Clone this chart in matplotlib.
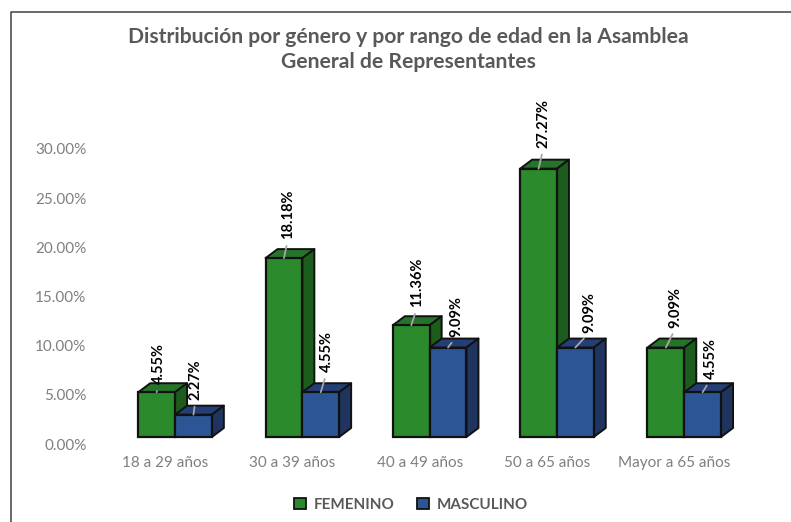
"""Distribución por género y rango de edad, barras con falso 3D."""

import matplotlib

matplotlib.use("Agg")
import matplotlib.pyplot as plt
import numpy as np
from matplotlib.lines import Line2D
from matplotlib.patches import Patch, Polygon
from matplotlib.transforms import ScaledTranslation

categories = ["18 a 29 años", "30 a 39 años", "40 a 49 años", "50 a 65 años", "Mayor a 65 años"]
femenino = [4.55, 18.18, 11.36, 27.27, 9.09]
masculino = [2.27, 4.55, 9.09, 9.09, 4.55]
yticks = [0, 5, 10, 15, 20, 25, 30]
title = "Distribución por género y por rango de edad en la Asamblea\nGeneral de Representantes"

# where each label sits relative to the top of its bar, pixels
fem_offsets = [(2, 8), (4, 19), (6, 18), (5, 21), (10, 20)]
mas_offsets = [(2, 15), (6, 20), (8, 11), (14, 15), (8, 13)]

W, H = 791, 522
FONT = "Lato"
GREEN = ("#2B8A2B", "#26742A", "#1C5C1C")
BLUE = ("#2C5596", "#233F75", "#1F3560")
EDGE = "#111111"
PX_X = 127.3  # pixels per category
PX_Y = 9.84  # pixels per percent
BAR_W = 36.8 / PX_X
DEPTH_X = 12 / PX_X
DEPTH_Y = 9 / PX_Y

fig = plt.figure(figsize=(W / 100, H / 100), dpi=100)
ax = fig.add_axes([111.4 / W, (H - 437) / H, 5 * PX_X / W, 30 * PX_Y / H])
ax.set_xlim(-0.5, 4.5)
ax.set_ylim(0, 30)


def bars_3d(xs, vals, colors, offsets, zorder):
    for x, v, off in zip(xs, vals, offsets):
        left, right = x - BAR_W / 2, x + BAR_W / 2
        top = Polygon([(left, v), (left + DEPTH_X, v + DEPTH_Y), (right + DEPTH_X, v + DEPTH_Y), (right, v)],
                      facecolor=colors[1], edgecolor=EDGE, lw=1.4, zorder=zorder, clip_on=False, joinstyle="round")
        side = Polygon([(right, 0), (right + DEPTH_X, DEPTH_Y), (right + DEPTH_X, v + DEPTH_Y), (right, v)],
                       facecolor=colors[2], edgecolor=EDGE, lw=1.4, zorder=zorder, clip_on=False, joinstyle="round")
        ax.add_patch(top)
        ax.add_patch(side)
        ax.bar(x, v, BAR_W, color=colors[0], edgecolor=EDGE, lw=1.6, zorder=zorder + 0.1, clip_on=False)
        ax.annotate(f"{v:.2f}%", xy=(x, v), xytext=off, textcoords="offset pixels",
                    rotation=90, ha="center", va="bottom", fontsize=10.5, fontweight="bold", color="black",
                    family=FONT, zorder=20, annotation_clip=False,
                    arrowprops=dict(arrowstyle="-", color="#A6A6A6", lw=1.3, shrinkA=3, shrinkB=0, relpos=(0.5, 0)))


x = np.arange(len(categories))
bars_3d(x - BAR_W / 2, femenino, GREEN, fem_offsets, 2)
bars_3d(x + BAR_W / 2, masculino, BLUE, mas_offsets, 3)

for side in ax.spines.values():
    side.set_visible(False)
ax.set_yticks(yticks)
ax.set_yticklabels([f"{t:.2f}%" for t in yticks], family=FONT, fontsize=11, color="#7F7F7F")
ax.set_xticks(x)
ax.set_xticklabels(categories, family=FONT, fontsize=11, color="#7F7F7F")
ax.tick_params(length=0, axis="y", pad=18)
ax.tick_params(length=0, axis="x", pad=14)
y_shift = ScaledTranslation(0, -7 / 100, fig.dpi_scale_trans)
x_shift = ScaledTranslation(-10 / 100, 0, fig.dpi_scale_trans)
for lab in ax.get_yticklabels():
    lab.set_transform(lab.get_transform() + y_shift)
for lab in ax.get_xticklabels():
    lab.set_transform(lab.get_transform() + x_shift)

fig.text(408 / W, 1 - 49.5 / H, title, ha="center", va="center", family=FONT, fontweight="bold",
         fontsize=15.2, color="#595959", linespacing=1.3)

handles = [Patch(facecolor=GREEN[0], edgecolor=EDGE, lw=1.3, label="FEMENINO"),
           Patch(facecolor=BLUE[0], edgecolor=EDGE, lw=1.3, label="MASCULINO")]
fig.legend(handles=handles, loc="center", bbox_to_anchor=(411 / W, 1 - 505 / H), ncol=2, frameon=False,
           handlelength=0.75, handleheight=0.75, handletextpad=0.5, columnspacing=1.5,
           prop={"family": FONT, "weight": "bold", "size": 11}, labelcolor="#595959")

# chart frame: only the top and left edges show in the screenshot
fig.add_artist(Line2D([10.5 / W, 10.5 / W, 1], [0, 1 - 11.5 / H, 1 - 11.5 / H], color="#404040", lw=1.1))

fig.savefig("out.png", dpi=100)
